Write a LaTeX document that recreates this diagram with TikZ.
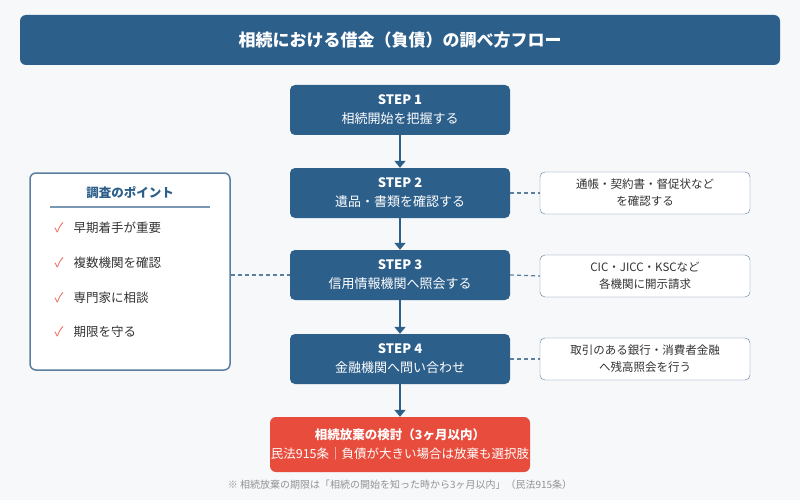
\documentclass[tikz,border=0pt]{standalone}
\usepackage{fontspec}
\setmainfont{Noto Sans CJK JP}
\usetikzlibrary{arrows.meta}
\definecolor{bg}{HTML}{F6F8FA}
\definecolor{navy}{HTML}{2D5F8B}
\definecolor{redc}{HTML}{E74C3C}
\definecolor{bord}{HTML}{5A7FA0}
\definecolor{txt}{HTML}{333333}
\begin{document}
\begin{tikzpicture}[x=1pt,y=-1pt,
 stepbox/.style={fill=navy,rounded corners=5pt,minimum width=220pt,minimum height=50pt,text=white,align=center,font=\fontsize{13}{19}\selectfont,inner sep=0pt},
 side/.style={draw=bord,fill=white,rounded corners=5pt,minimum width=210pt,minimum height=42pt,text=txt,align=center,font=\fontsize{11.5}{17}\selectfont,inner sep=0pt},
 arr/.style={navy,line width=2.5pt,-{Triangle[length=7pt,width=11pt]}},
 dashln/.style={bord,line width=1.2pt,dash pattern=on 4pt off 3pt},
 item/.style={anchor=west,text=txt,font=\fontsize{12.5}{15}\selectfont},
 chk/.style={text=redc!85,font=\fontsize{13}{15}\selectfont}]
\useasboundingbox[fill=bg] (0,0) rectangle (800,500);
\node[fill=navy,rounded corners=6pt,minimum width=760pt,minimum height=50pt,text=white,font=\fontsize{17}{20}\selectfont\bfseries] (title) at (400,40) {相続における借金（負債）の調べ方フロー};
\node[stepbox] (s1) at (400,110) {\textbf{STEP 1}\\相続開始を把握する};
\node[stepbox] (s2) at (400,193) {\textbf{STEP 2}\\遺品・書類を確認する};
\node[stepbox] (s3) at (400,275) {\textbf{STEP 3}\\信用情報機関へ照会する};
\node[stepbox] (s4) at (400,359) {\textbf{STEP 4}\\金融機関へ問い合わせ};
\node[fill=redc,rounded corners=6pt,minimum width=260pt,minimum height=55pt,text=white,align=center,font=\fontsize{12.5}{19}\selectfont,inner sep=0pt] (r) at (400,444.5) {{\bfseries 相続放棄の検討（3ヶ月以内）}\\民法915条｜負債が大きい場合は放棄も選択肢};
\node[text=gray!85,font=\fontsize{10}{12}\selectfont] (note) at (400,485) {※ 相続放棄の期限は「相続の開始を知った時から3ヶ月以内」（民法915条）};
\draw[arr] (s1) -- (s2);
\draw[arr] (s2) -- (s3);
\draw[arr] (s3) -- (s4);
\draw[arr] (s4) -- (r);
\node[side] (b1) at (645,193) {通帳・契約書・督促状など\\を確認する};
\node[side] (b2) at (645,276) {CIC・JICC・KSCなど\\各機関に開示請求};
\node[side] (b3) at (645,359) {取引のある銀行・消費者金融\\へ残高照会を行う};
\draw[dashln] (s2.east) -- (b1.west);
\draw[dashln] (s3.east) -- (b2.west);
\draw[dashln] (s4.east) -- (b3.west);
\node[draw=bord,line width=1.5pt,fill=white,rounded corners=6pt,minimum width=200pt,minimum height=197pt,inner sep=0pt] (pt) at (130,271.5) {};
\node[text=navy,font=\fontsize{12.5}{15}\selectfont\bfseries] (pth) at (130,193) {調査のポイント};
\draw[bord!80,line width=1.5pt] (50,207) -- (210,207);
\foreach \y/\t [count=\i] in {228/早期着手が重要,263/複数機関を確認,298/専門家に相談,332/期限を守る}{
 \node[chk] (c\i) at (59,\y) {✓};
 \node[item] (i\i) at (70,\y) {\t};
}
\draw[dashln] (pt.east |- s3) -- (s3.west);
\end{tikzpicture}
\end{document}
